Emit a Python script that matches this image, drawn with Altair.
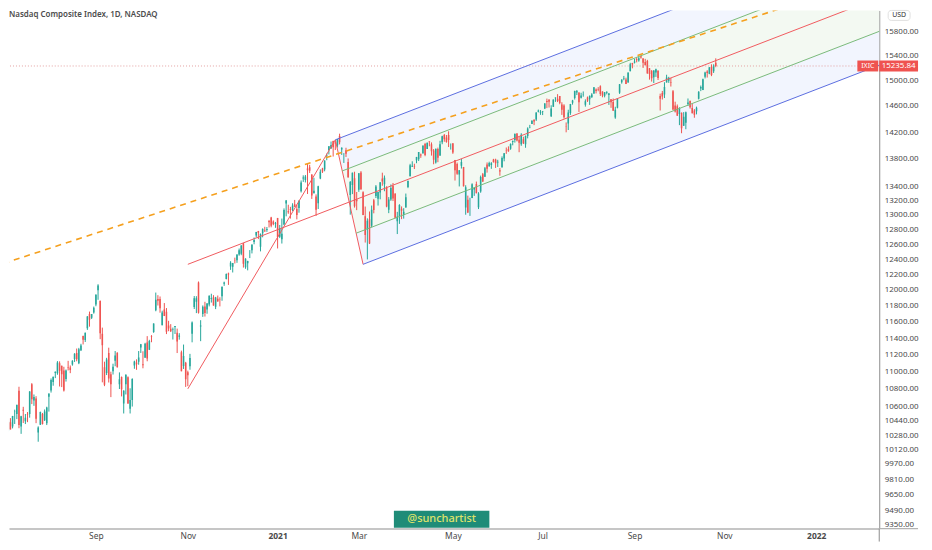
import json
import numpy as np
import pandas as pd
import altair as alt

TITLE = "Nasdaq Composite Index, 1D, NASDAQ"
SYMBOL = "IXIC"
LAST_PRICE = 15235.84
WATERMARK = "@sunchartist"
CURRENCY = "USD"

HOLIDAYS = ["2020-07-03", "2020-09-07", "2020-11-26", "2020-12-25", "2021-01-01",
            "2021-01-18", "2021-02-15", "2021-04-02", "2021-05-31", "2021-07-05",
            "2021-09-06", "2021-11-25", "2021-12-24"]

# daily candles (open, high, low, close)
JUN_2020 = [(9995, 10010, 9750, 9757), (9760, 9875, 9705, 9874), (9870, 10074, 9850, 10058)]
JUL_2020 = [(10063, 10199, 10057, 10154), (10240, 10310, 10198, 10207), (10321, 10462, 10310, 10433),
            (10422, 10468, 10343, 10343), (10376, 10493, 10354, 10492), (10546, 10563, 10403, 10547),
            (10514, 10617, 10457, 10617), (10778, 10824, 10356, 10391), (10374, 10494, 10294, 10488),
            (10562, 10595, 10414, 10550), (10432, 10514, 10402, 10473), (10509, 10536, 10423, 10503),
            (10514, 10773, 10473, 10768), (10854, 10866, 10626, 10680), (10667, 10735, 10606, 10706),
            (10690, 10716, 10412, 10461), (10309, 10377, 10208, 10363), (10394, 10541, 10392, 10536),
            (10515, 10526, 10397, 10402), (10443, 10565, 10436, 10543), (10410, 10596, 10391, 10587),
            (10710, 10746, 10541, 10745)]
AUG_2020 = [(10780, 10920, 10757, 10903), (10880, 10941, 10836, 10941), (10983, 11002, 10924, 10998),
            (10981, 11124, 10963, 11108), (11099, 11121, 10827, 11011), (11070, 11070, 10820, 10968),
            (11014, 11057, 10769, 10782), (10915, 11025, 10884, 11012), (11047, 11127, 11014, 11042),
            (11048, 11072, 10982, 11019), (11083, 11134, 11070, 11129), (11148, 11218, 11114, 11210),
            (11221, 11274, 11122, 11146), (11099, 11282, 11088, 11264), (11254, 11331, 11244, 11312),
            (11427, 11430, 11323, 11380), (11376, 11467, 11353, 11466), (11519, 11671, 11500, 11665),
            (11697, 11727, 11540, 11625), (11651, 11695, 11635, 11696), (11716, 11790, 11701, 11775)]
SEP_2020 = [(11815, 11945, 11794, 11939), (11995, 12074, 11875, 12056), (11862, 11863, 11387, 11458),
            (11453, 11528, 10875, 11313), (11050, 11117, 10831, 10847), (10985, 11163, 10960, 11142),
            (11221, 11284, 10873, 10919), (10970, 10999, 10705, 10854), (11003, 11093, 10966, 11057),
            (11129, 11244, 11063, 11190), (11224, 11229, 11048, 11050), (10853, 10991, 10798, 10910),
            (10937, 10943, 10713, 10794), (10633, 10784, 10520, 10778), (10853, 10968, 10735, 10964),
            (10934, 10944, 10629, 10633), (10573, 10806, 10520, 10672), (10673, 10922, 10598, 10914),
            (11072, 11129, 11033, 11118), (11108, 11145, 11021, 11086), (11116, 11244, 11081, 11168)]
OCT_2020 = [(11287, 11329, 11221, 11326), (11087, 11241, 11039, 11076), (11165, 11343, 11164, 11332),
            (11346, 11424, 11122, 11155), (11260, 11379, 11256, 11365), (11427, 11436, 11350, 11420),
            (11475, 11580, 11464, 11580), (11745, 11967, 11731, 11876), (11884, 11934, 11803, 11864),
            (11885, 11917, 11713, 11768), (11558, 11738, 11557, 11714), (11753, 11834, 11671, 11672),
            (11726, 11771, 11449, 11479), (11555, 11612, 11484, 11517), (11515, 11571, 11474, 11485),
            (11499, 11529, 11383, 11506), (11535, 11548, 11450, 11548), (11465, 11516, 11220, 11358),
            (11417, 11460, 11381, 11431), (11230, 11249, 11004, 11005), (11065, 11322, 11031, 11186),
            (11103, 11115, 10822, 10912)]
NOV_2020 = [(10993, 11011, 10831, 10957), (11064, 11210, 11022, 11161), (11453, 11604, 11349, 11590),
            (11785, 11923, 11759, 11895), (11852, 11921, 11708, 11895), (12095, 12109, 11702, 11713),
            (11543, 11620, 11363, 11554), (11698, 11804, 11661, 11786), (11790, 11850, 11665, 11710),
            (11753, 11834, 11700, 11829), (11816, 11931, 11792, 11925), (11886, 11952, 11840, 11899),
            (11907, 11934, 11801, 11802), (11786, 11912, 11758, 11904), (11888, 11929, 11852, 11855),
            (11884, 11907, 11792, 11881), (11919, 12048, 11863, 12037), (12081, 12107, 12053, 12095),
            (12140, 12213, 12136, 12206), (12212, 12224, 12065, 12199)]
DEC_2020 = [(12305, 12374, 12260, 12355), (12301, 12351, 12226, 12349), (12381, 12421, 12344, 12377),
            (12388, 12464, 12352, 12464), (12461, 12542, 12446, 12520), (12472, 12587, 12453, 12583),
            (12614, 12614, 12290, 12339), (12293, 12413, 12274, 12406), (12348, 12380, 12254, 12378),
            (12439, 12521, 12415, 12440), (12520, 12595, 12477, 12595), (12628, 12690, 12599, 12658),
            (12718, 12767, 12691, 12765), (12778, 12780, 12669, 12756), (12566, 12743, 12504, 12742),
            (12749, 12815, 12693, 12807), (12787, 12836, 12770, 12771), (12791, 12833, 12767, 12805),
            (12914, 12930, 12827, 12900), (12964, 12973, 12829, 12851), (12907, 12924, 12857, 12870),
            (12878, 12903, 12822, 12888)]
JAN_2021 = [(12958, 12958, 12543, 12698), (12699, 12861, 12682, 12819), (12666, 12949, 12609, 12741),
            (12866, 13090, 12858, 13067), (13160, 13208, 12980, 13202), (13049, 13141, 13015, 13036),
            (13083, 13112, 12949, 13072), (13070, 13162, 13054, 13129), (13149, 13209, 13111, 13112),
            (13083, 13142, 12938, 12998), (13095, 13202, 13030, 13197), (13330, 13486, 13314, 13457),
            (13515, 13560, 13465, 13530), (13493, 13565, 13457, 13543), (13658, 13728, 13293, 13635),
            (13676, 13712, 13594, 13626), (13572, 13574, 13223, 13271), (13302, 13524, 13301, 13337),
            (13256, 13287, 12986, 13070)]
FEB_2021 = [(13161, 13410, 13082, 13403), (13513, 13646, 13504, 13612), (13658, 13669, 13594, 13610),
            (13646, 13777, 13618, 13777), (13850, 13878, 13780, 13856), (13932, 13988, 13865, 13988),
            (13955, 14057, 13949, 14007), (14064, 14070, 13834, 13973), (14041, 14063, 13930, 14026),
            (14003, 14095, 13968, 14095), (14142, 14175, 14014, 14047), (13939, 13970, 13858, 13966),
            (13864, 13885, 13740, 13865), (13927, 13964, 13828, 13874), (13755, 13806, 13525, 13533),
            (13278, 13478, 13003, 13465), (13422, 13600, 13291, 13597), (13519, 13612, 13101, 13119),
            (13217, 13321, 13066, 13192)]
MAR_2021 = [(13352, 13592, 13323, 13589), (13602, 13621, 13352, 13359), (13319, 13331, 12996, 12998),
            (12982, 13116, 12622, 12723), (12801, 12952, 12397, 12920), (12939, 13047, 12602, 12609),
            (12851, 13130, 12829, 13073), (13205, 13223, 13022, 13069), (13266, 13420, 13236, 13399),
            (13225, 13324, 13130, 13320), (13314, 13460, 13218, 13460), (13514, 13598, 13410, 13472),
            (13430, 13557, 13332, 13525), (13380, 13403, 13106, 13116), (13071, 13249, 13024, 13215),
            (13216, 13429, 13196, 13378), (13406, 13450, 13193, 13228), (13295, 13305, 12953, 12962),
            (12912, 13042, 12737, 12977), (12982, 13149, 12876, 13139), (13085, 13118, 12941, 13059),
            (13002, 13093, 12948, 13045), (13101, 13299, 13101, 13247)]
APR_2021 = [(13392, 13480, 13376, 13480), (13545, 13727, 13545, 13705), (13684, 13764, 13682, 13698),
            (13697, 13728, 13651, 13688), (13781, 13829, 13736, 13829), (13796, 13900, 13768, 13900),
            (13863, 13878, 13815, 13850), (13881, 13996, 13876, 13996), (14020, 14037, 13839, 13857),
            (13947, 14041, 13947, 14039), (14057, 14061, 13986, 14052), (14016, 14044, 13848, 13914),
            (13922, 13945, 13721, 13787), (13748, 13951, 13731, 13950), (13944, 13966, 13751, 13818),
            (13850, 14068, 13843, 14016), (14048, 14145, 14017, 14138), (14154, 14171, 14054, 14090),
            (14119, 14155, 14040, 14051), (14156, 14211, 13975, 14082), (13960, 14028, 13937, 13962)]
MAY_2021 = [(14030, 14030, 13874, 13895), (13784, 13784, 13485, 13634), (13724, 13746, 13567, 13582),
            (13573, 13637, 13400, 13633), (13700, 13800, 13658, 13752), (13681, 13682, 13399, 13402),
            (13101, 13417, 13002, 13389), (13213, 13270, 13025, 13032), (13125, 13240, 12986, 13125),
            (13236, 13445, 13234, 13430), (13358, 13379, 13266, 13379), (13436, 13470, 13303, 13303),
            (13105, 13318, 13081, 13299), (13327, 13556, 13310, 13536), (13577, 13594, 13464, 13471),
            (13541, 13681, 13537, 13661), (13718, 13747, 13599, 13657), (13693, 13758, 13685, 13738),
            (13711, 13752, 13654, 13736), (13792, 13800, 13747, 13749)]
JUN_2021 = [(13792, 13802, 13667, 13736), (13747, 13786, 13681, 13756), (13632, 13666, 13554, 13615),
            (13677, 13836, 13671, 13814), (13804, 13886, 13764, 13881), (13929, 13968, 13874, 13925),
            (13946, 13985, 13904, 13912), (13951, 14030, 13934, 14020), (14049, 14069, 14001, 14069),
            (14081, 14175, 14041, 14175), (14177, 14183, 14059, 14073), (14083, 14130, 13898, 14040),
            (14017, 14182, 13993, 14161), (14092, 14129, 14020, 14030), (14016, 14148, 13964, 14141),
            (14140, 14271, 14105, 14253), (14269, 14309, 14257, 14272), (14323, 14383, 14323, 14370),
            (14385, 14397, 14305, 14360), (14393, 14502, 14369, 14500), (14512, 14544, 14501, 14528),
            (14490, 14536, 14463, 14504)]
JUL_2021 = [(14513, 14523, 14459, 14523), (14560, 14645, 14552, 14639), (14676, 14715, 14567, 14663),
            (14701, 14701, 14576, 14665), (14440, 14611, 14430, 14560), (14587, 14701, 14585, 14701),
            (14720, 14734, 14664, 14733), (14713, 14785, 14661, 14678), (14755, 14755, 14627, 14645),
            (14624, 14658, 14462, 14543), (14608, 14627, 14406, 14427), (14281, 14346, 14196, 14275),
            (14329, 14542, 14231, 14499), (14493, 14632, 14462, 14632), (14651, 14696, 14621, 14685),
            (14723, 14840, 14701, 14837), (14813, 14848, 14771, 14840), (14812, 14813, 14507, 14660),
            (14729, 14807, 14717, 14763), (14777, 14828, 14745, 14779), (14619, 14703, 14590, 14673)]
AUG_2021 = [(14732, 14748, 14663, 14681), (14704, 14763, 14617, 14761), (14737, 14801, 14728, 14781),
            (14794, 14896, 14790, 14895), (14859, 14876, 14797, 14836), (14868, 14896, 14831, 14860),
            (14911, 14925, 14757, 14788), (14826, 14830, 14736, 14766), (14760, 14818, 14735, 14816),
            (14809, 14829, 14782, 14823), (14770, 14804, 14617, 14794), (14704, 14709, 14571, 14657),
            (14661, 14717, 14526, 14526), (14420, 14588, 14402, 14542), (14573, 14718, 14563, 14715),
            (14807, 14946, 14789, 14943), (14973, 15019, 14952, 15019), (15034, 15075, 15006, 15042),
            (15019, 15047, 14945, 14946), (14972, 15130, 14968, 15130), (15151, 15288, 15151, 15266),
            (15286, 15287, 15198, 15259)]
SEP_2021 = [(15290, 15353, 15277, 15310), (15345, 15374, 15295, 15331), (15327, 15388, 15305, 15364),
            (15396, 15403, 15355, 15374), (15359, 15364, 15204, 15287), (15301, 15352, 15247, 15248),
            (15316, 15336, 15113, 15115), (15201, 15201, 15016, 15105), (15158, 15168, 14985, 15037),
            (15056, 15168, 14962, 15162), (15131, 15193, 15060, 15182), (15159, 15166, 15010, 15044),
            (14758, 14793, 14530, 14714), (14803, 14836, 14701, 14747), (14779, 14974, 14724, 14897),
            (14972, 15094, 14970, 15052), (14998, 15061, 14964, 15048), (14977, 15043, 14906, 14970),
            (14830, 14850, 14535, 14547), (14607, 14667, 14499, 14513), (14597, 14623, 14448, 14448)]
OCT_2021 = [(14475, 14580, 14305, 14567), (14497, 14498, 14182, 14256), (14294, 14505, 14293, 14434),
            (14343, 14513, 14243, 14502), (14632, 14717, 14601, 14655), (14679, 14686, 14559, 14580),
            (14568, 14638, 14485, 14486), (14528, 14552, 14418, 14465), (14520, 14590, 14470, 14572),
            (14712, 14832, 14702, 14823), (14874, 14922, 14833, 14897), (14850, 15032, 14849, 15022),
            (15064, 15143, 15036, 15130), (15146, 15168, 15049, 15122), (15109, 15216, 15103, 15216),
            (15224, 15263, 15072, 15090), (15151, 15263, 15123, 15226), (15288, 15361, 15216, 15236)]

MONTHS = [((2020, 6), JUN_2020), ((2020, 7), JUL_2020), ((2020, 8), AUG_2020), ((2020, 9), SEP_2020),
          ((2020, 10), OCT_2020), ((2020, 11), NOV_2020), ((2020, 12), DEC_2020), ((2021, 1), JAN_2021),
          ((2021, 2), FEB_2021), ((2021, 3), MAR_2021), ((2021, 4), APR_2021), ((2021, 5), MAY_2021),
          ((2021, 6), JUN_2021), ((2021, 7), JUL_2021), ((2021, 8), AUG_2021), ((2021, 9), SEP_2021),
          ((2021, 10), OCT_2021)]

# time axis labels (first trading day of the month)
TICK_MONTHS = [(2020, 9), (2020, 11), (2021, 1), (2021, 3), (2021, 5), (2021, 7), (2021, 9), (2021, 11), (2022, 1)]
TICK_LABELS = ["Sep", "Nov", "2021", "Mar", "May", "Jul", "Sep", "Nov", "2022"]
YEAR_LABELS = ["2021", "2022"]

# price axis labels
Y_TICKS = [9350, 9490, 9650, 9810, 9970, 10120, 10280, 10440, 10600, 10800, 11000, 11200, 11400,
           11600, 11800, 12000, 12200, 12400, 12600, 12800, 13000, 13200, 13400, 13800, 14200,
           14600, 15000, 15400, 15800]

# drawing anchors (bar index from 2020-07-01, price)
PITCHFORK_IDX = [86, 155, 168]
PITCHFORK_PRICE = [10800, 14083, 12333]
TREND_IDX = [0, 298]
TREND_PRICE = [12346, 15427]

# layout
W, H = 875, 521
X_DOMAIN = [2.33, 409.49]
Y_DOMAIN = [9305, 16165]
UP, DOWN = "#26a69a", "#ef5350"

# ---------- build tables ----------
cal = pd.DatetimeIndex(pd.bdate_range("2020-06-01", "2022-03-31", freq="C", holidays=HOLIDAYS))
zero = cal.get_loc(pd.Timestamp("2020-07-01"))
rows = []
for (yy, mm), arr in MONTHS:
    days = cal[(cal.year == yy) & (cal.month == mm)]
    days = days[-len(arr):] if (yy, mm) == (2020, 6) else days[:len(arr)]
    for d, (o, h, l, c) in zip(days, arr):
        i = cal.get_loc(d) - zero
        rows.append(dict(i=i, il=i - 0.36, ir=i + 0.36, open=o, high=h, low=l, close=c,
                         dir="up" if c >= o else "down"))
candles = pd.DataFrame(rows)

tick_idx = []
for yy, mm in TICK_MONTHS:
    tick_idx.append(int(cal.get_loc(cal[(cal.year == yy) & (cal.month == mm)][0]) - zero))
label_expr = f"{json.dumps(TICK_LABELS)}[indexof({json.dumps(tick_idx)}, datum.value)]"
year_test = " || ".join(f"datum.value == {tick_idx[TICK_LABELS.index(y)]}" for y in YEAR_LABELS)

# pitchfork geometry (Schiff) in log-price space
P1, P2, P3 = [(float(i), np.log(p)) for i, p in zip(PITCHFORK_IDX, PITCHFORK_PRICE)]
O = (P1[0], (P1[1] + P2[1]) / 2)
M = ((P2[0] + P3[0]) / 2, (P2[1] + P3[1]) / 2)
s = (M[1] - O[1]) / (M[0] - O[0])
G1 = ((P2[0] + M[0]) / 2, (P2[1] + M[1]) / 2)
G2 = ((M[0] + P3[0]) / 2, (M[1] + P3[1]) / 2)
END = 425.0


def at(q, i):
    return q[1] + s * (i - q[0])


def seg(name, a, b):
    return [dict(line=name, i=a[0], p=float(np.exp(a[1]))), dict(line=name, i=b[0], p=float(np.exp(b[1])))]


red = pd.DataFrame(seg("h1", P1, P2) + seg("h2", P2, P3) + seg("med", O, (END, at(O, END))))
blue = pd.DataFrame(seg("u", P2, (END, at(P2, END))) + seg("d", P3, (END, at(P3, END))))
green = pd.DataFrame(seg("u", G1, (END, at(G1, END))) + seg("d", G2, (END, at(G2, END))))

t_s = (np.log(TREND_PRICE[1]) - np.log(TREND_PRICE[0])) / (TREND_IDX[1] - TREND_IDX[0])
t0 = (float(TREND_IDX[0]), np.log(TREND_PRICE[0]))
orange = pd.DataFrame([dict(i=-10.0, p=float(np.exp(t0[1] + t_s * (-10 - t0[0])))),
                       dict(i=END, p=float(np.exp(t0[1] + t_s * (END - t0[0]))))])


def band(name, kind, a, b):
    # a: left vertex on the upper line, b: left vertex on the lower line
    pts = [(a[0], a[1], a[1]), (b[0], at(a, b[0]), b[1]), (END, at(a, END), at(b, END))]
    return [dict(band=name, kind=kind, i=i, top=float(np.exp(t)), bot=float(np.exp(bb))) for i, t, bb in pts]


bands = pd.DataFrame(
    band("b1", "blue", P2, G1) + band("g1", "green", G1, M)
    + band("g2", "green", M, G2) + band("b2", "blue", G2, P3)
)

# ---------- chart ----------
xs = alt.Scale(domain=X_DOMAIN, nice=False, zero=False)
ys = alt.Scale(type="log", domain=Y_DOMAIN, nice=False, zero=False)

x_axis = alt.Axis(values=tick_idx, labelExpr=label_expr, ticks=False, tickSize=0, grid=False,
                  domainColor="#b3b3b3", domainWidth=1.5, labelColor="#4a4a4a", labelFontSize=8.5,
                  labelPadding=3, labelFlush=False, labelOverlap=False, title=None,
                  labelFontWeight={"condition": {"test": year_test, "value": "bold"}, "value": "normal"})
y_axis = alt.Axis(orient="right", values=Y_TICKS, format=".2f", ticks=False, tickSize=0, grid=False,
                  domainColor="#8c8c8c", labelColor="#4a4a4a", labelFontSize=8, labelPadding=5,
                  labelOverlap=False, title=None)


def X(f):
    return alt.X(f, type="quantitative", scale=xs, axis=x_axis, title=None)


def Y(f):
    return alt.Y(f, type="quantitative", scale=ys, axis=y_axis, title=None)


color = alt.Color("dir:N", scale=alt.Scale(domain=["up", "down"], range=[UP, DOWN]), legend=None)

fill_blue = alt.Chart(bands[bands.kind == "blue"]).mark_area(color="#f2f5fe", clip=True).encode(
    x=X("i"), y=Y("top"), y2="bot:Q", detail="band:N")
fill_green = alt.Chart(bands[bands.kind == "green"]).mark_area(color="#f3f9f2", clip=True).encode(
    x=X("i"), y=Y("top"), y2="bot:Q", detail="band:N")

last_df = pd.DataFrame({"p": [LAST_PRICE], "t": [f"{LAST_PRICE:.2f}"], "s": [SYMBOL]})
price_line = alt.Chart(last_df).mark_rule(color="#e3a0a0", strokeDash=[1, 2], strokeWidth=1).encode(y=Y("p"))

wicks = alt.Chart(candles).mark_rule(strokeWidth=1, clip=True).encode(
    x=X("i"), y=Y("low"), y2="high:Q", color=color)
bodies = alt.Chart(candles).mark_rect(clip=True).encode(
    x=X("il"), x2="ir:Q", y=Y("open"), y2="close:Q", color=color)

red_l = alt.Chart(red).mark_line(color="#f05a5e", strokeWidth=1, clip=True).encode(
    x=X("i"), y=Y("p"), detail="line:N")
blue_l = alt.Chart(blue).mark_line(color="#5b6de0", strokeWidth=1, clip=True).encode(
    x=X("i"), y=Y("p"), detail="line:N")
green_l = alt.Chart(green).mark_line(color="#79b97a", strokeWidth=1, clip=True).encode(
    x=X("i"), y=Y("p"), detail="line:N")
orange_l = alt.Chart(orange).mark_line(color="#f5a01e", strokeWidth=1.6, strokeDash=[6, 5], clip=True).encode(
    x=X("i"), y=Y("p"))

sym_box = alt.Chart(last_df).mark_rule(color=DOWN, strokeWidth=11).encode(
    x=alt.value(853), x2=alt.value(874), y=Y("p"))
sym_txt = alt.Chart(last_df).mark_text(color="white", fontSize=7, font="Noto Sans").encode(
    x=alt.value(863.5), y=Y("p"), text="s:N")
price_box = alt.Chart(last_df).mark_rule(color=DOWN, strokeWidth=11).encode(
    x=alt.value(875), x2=alt.value(914), y=Y("p"))
price_txt = alt.Chart(last_df).mark_text(color="white", fontSize=8, font="Noto Sans").encode(
    x=alt.value(894.5), y=Y("p"), text="t:N")

title_txt = alt.Chart(pd.DataFrame({"t": [TITLE]})).mark_text(
    align="left", baseline="top", fontSize=8, fontWeight=600, color="#4d4d4d", font="Noto Sans").encode(
    x=alt.value(0), y=alt.value(1), text="t:N")

usd_box = alt.Chart(pd.DataFrame({"t": [CURRENCY]})).mark_rect(
    color="white", stroke="#e0e0e0", cornerRadius=3).encode(
    x=alt.value(884), x2=alt.value(906), y=alt.value(0), y2=alt.value(10))
usd_txt = alt.Chart(pd.DataFrame({"t": [CURRENCY]})).mark_text(
    fontSize=7, color="#333333", font="Noto Sans").encode(x=alt.value(895), y=alt.value(5), text="t:N")

wm_box = alt.Chart(pd.DataFrame({"t": [WATERMARK]})).mark_rect(color="#1f8c78").encode(
    x=alt.value(387), x2=alt.value(483), y=alt.value(503), y2=alt.value(520))
wm_txt = alt.Chart(pd.DataFrame({"t": [WATERMARK]})).mark_text(
    fontSize=11, color="#dfe36a", font="Noto Sans", fontWeight=500).encode(
    x=alt.value(435), y=alt.value(511.5), text="t:N")

frame_v = alt.Chart(pd.DataFrame({"t": [0]})).mark_rule(color="#8c8c8c", strokeWidth=1).encode(
    x=alt.value(875), y=alt.value(521), y2=alt.value(534))
frame_h = alt.Chart(pd.DataFrame({"t": [0]})).mark_rule(color="#b3b3b3", strokeWidth=1.5).encode(
    x=alt.value(875), x2=alt.value(914), y=alt.value(521))

chart = alt.layer(
    fill_blue, fill_green, price_line, wicks, bodies, red_l, blue_l, green_l, orange_l,
    sym_box, sym_txt, price_box, price_txt, title_txt, usd_box, usd_txt, wm_box, wm_txt,
    frame_v, frame_h,
).properties(width=W, height=H, padding=0).configure_view(stroke=None).configure_axis(
    labelFont="Noto Sans")

chart.save("out.html", embed_options={"renderer": "svg", "actions": False})
